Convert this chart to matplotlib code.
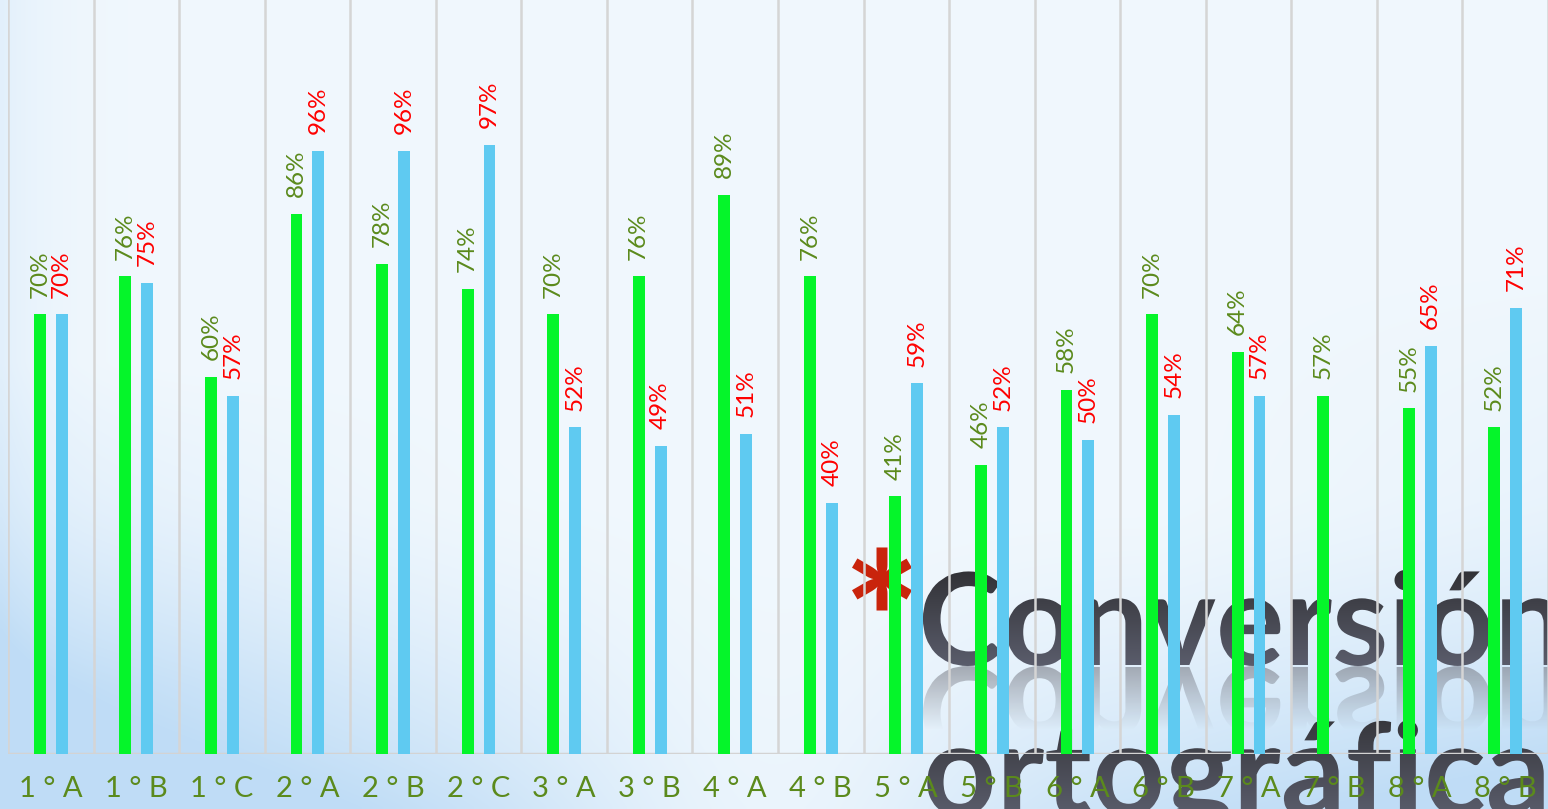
import numpy as np
import matplotlib
matplotlib.use('Agg')
import matplotlib.pyplot as plt
from matplotlib.textpath import TextPath
from matplotlib.patches import PathPatch
from matplotlib.font_manager import FontProperties
from matplotlib.transforms import Affine2D

plt.rcParams['font.family'] = ['Lato', 'DejaVu Sans']

# data
grupos = ['1°A', '1°B', '1°C', '2°A', '2°B', '2°C', '3°A', '3°B', '4°A',
          '4°B', '5°A', '5°B', '6°A', '6°B', '7°A', '7°B', '8°A', '8°B']
serie_verde = [70, 76, 60, 86, 78, 74, 70, 76, 89, 76, 41, 46, 58, 70, 64, 57, 55, 52]
serie_azul = [70, 75, 57, 96, 96, 97, 52, 49, 51, 40, 59, 52, 50, 54, 57, None, 65, 71]

W, H = 1548, 809
fig = plt.figure(figsize=(W / 100, H / 100), dpi=100)

# ---- background layer (gradient + title art) ----
bg = fig.add_axes([0, 0, 1, 1])
bg.axis('off')

ny, nx = 200, 400
yy, xx = np.mgrid[0:1:ny * 1j, 0:1:nx * 1j]
white = np.array([0.945, 0.972, 0.993])
blue = np.array([0.75, 0.865, 0.965])
t = 0.3 * np.exp(-xx / 0.03)
t += 0.55 * np.exp(-(xx / 0.22) ** 2) * np.clip((yy - 0.45) / 0.4, 0, 1)
t += 0.85 * np.clip((yy - 0.6) / 0.4, 0, 1) ** 1.6 * (1 - 0.85 * np.exp(-((xx - 0.5) / 0.16) ** 2))
t += 0.35 * np.clip((xx - 0.75) / 0.25, 0, 1) * np.clip((yy - 0.3) / 0.7, 0, 1)
t = np.clip(t, 0, 1)[..., None]
bg.imshow(white * (1 - t) + blue * t, extent=(0, W, H, 0), aspect='auto',
          interpolation='bilinear', zorder=0)

fp = FontProperties(family='Lato', weight='bold')

# main word with dark vertical gradient
tx, base1, base2 = 918, 665, 815
tp1 = TextPath((0, 0), 'Conversión', size=128, prop=fp)
p1 = PathPatch(Affine2D().scale(1, -1).translate(tx, base1).transform_path(tp1),
               facecolor='none', edgecolor='none')
bg.add_patch(p1)
g = np.linspace(0, 1, 100)[:, None, None]
dark = np.array([0.17, 0.17, 0.18]) * (1 - g) + np.array([0.36, 0.37, 0.43]) * g
im1 = bg.imshow(np.repeat(dark, 2, axis=1), extent=(tx - 10, W, base1 + 5, base1 - 110),
                aspect='auto', interpolation='bilinear', zorder=1)
im1.set_clip_path(p1)

# reflection
p_ref = PathPatch(Affine2D().translate(tx, base1 + 2).transform_path(tp1),
                  facecolor='none', edgecolor='none')
bg.add_patch(p_ref)
a = np.linspace(0.55, 0.0, 100)[:, None]
refl = np.zeros((100, 2, 4))
refl[..., 0] = 0.42
refl[..., 1] = 0.43
refl[..., 2] = 0.47
refl[..., 3] = a
im2 = bg.imshow(refl, extent=(tx - 10, W, base1 + 65, base1), aspect='auto',
                interpolation='bilinear', zorder=1)
im2.set_clip_path(p_ref)

# second line
tp2 = TextPath((0, 0), 'ortográfica', size=128, prop=fp)
p2 = PathPatch(Affine2D().scale(1, -1).translate(tx + 5, base2).transform_path(tp2),
               facecolor='none', edgecolor='none')
bg.add_patch(p2)
im3 = bg.imshow(np.repeat(dark, 2, axis=1), extent=(tx - 10, W, base2 + 5, base2 - 125),
                aspect='auto', interpolation='bilinear', zorder=1)
im3.set_clip_path(p2)

# red asterisk
tpa = TextPath((0, 0), '*', size=100, prop=fp)
ea = tpa.get_extents()
s = 60 / ea.width
cx, cy = 882, 579
tr = (Affine2D().translate(-(ea.x0 + ea.width / 2), -(ea.y0 + ea.height / 2))
      .scale(s, -s).translate(cx, cy))
bg.add_patch(PathPatch(tr.transform_path(tpa), facecolor='#c9240c', edgecolor='none', zorder=2))

bg.set_xlim(0, W)
bg.set_ylim(H, 0)

# ---- chart ----
ax = fig.add_axes([8 / W, 55 / H, 1 - 8 / W, 754 / H])
ax.patch.set_alpha(0)
for sp in ax.spines.values():
    sp.set_visible(False)

x = np.arange(len(grupos))
off, bw = 0.128, 0.14
for k in range(len(grupos) + 1):
    ax.axvline(k - 0.5, color='#d5d5d5', lw=1.8, zorder=1)
ax.axhline(0, color='#d3d3d3', lw=2.5, zorder=1)

ax.bar(x - off, serie_verde, width=bw, color='#05f52a', zorder=3)
xb = [xi + off for xi, v in zip(x, serie_azul) if v is not None]
vb = [v for v in serie_azul if v is not None]
ax.bar(xb, vb, width=bw, color='#5fcaf1', zorder=3)

for xi, v in zip(x, serie_verde):
    ax.annotate(f'{v}%', (xi - off, v), xytext=(0, 12), textcoords='offset points',
                rotation=90, ha='center', va='bottom', fontsize=17.5, color='#5b8a1c', zorder=4)
for xi, v in zip(xb, vb):
    ax.annotate(f'{v}%', (xi, v), xytext=(0, 12), textcoords='offset points',
                rotation=90, ha='center', va='bottom', fontsize=17.5, color='#ff0000', zorder=4)

ax.set_xlim(-0.5, len(grupos) - 0.5)
ax.set_ylim(0, 120)
ax.set_yticks([])
ax.set_xticks(x)
ax.set_xticklabels([' '.join(gr) for gr in grupos], fontsize=21, color='#5b8a1c')
ax.tick_params(axis='x', length=0, pad=16)

fig.savefig('out.png', dpi=100)
